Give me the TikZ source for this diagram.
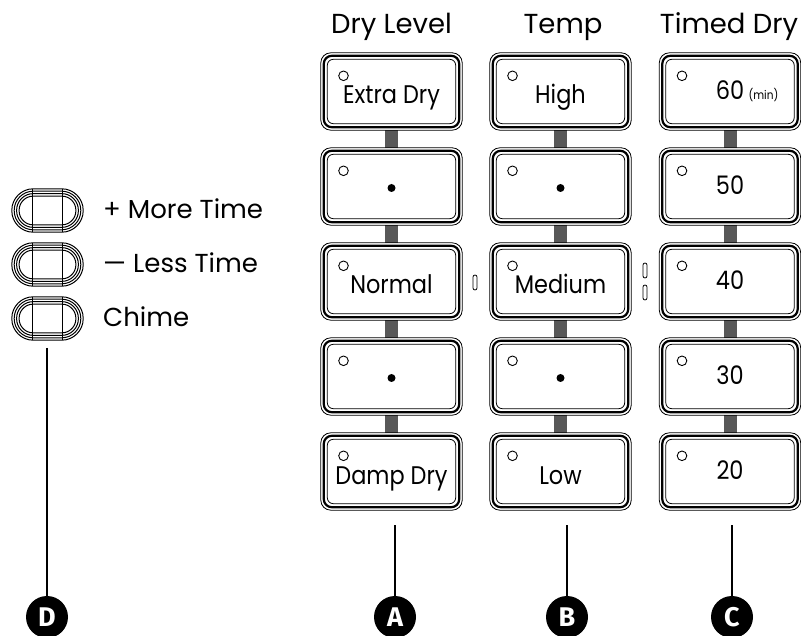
\documentclass[tikz,border=0pt]{standalone}
\usepackage{fontspec}
\newfontfamily\fut[FakeStretch=0.88]{Poppins}
\newfontfamily\futw{Poppins}
\newfontfamily\lett{Fira Sans}
\definecolor{stubgray}{RGB}{88,88,88}
\newcommand\btnframe[1]{%
  \draw[line width=0.8pt, rounded corners=10pt] (#1.north west) rectangle (#1.south east);
  \draw[line width=2.2pt, rounded corners=8pt] ([shift={(3,3)}]#1.north west) rectangle ([shift={(-3,-3)}]#1.south east);
  \draw[line width=0.8pt, rounded corners=6pt] ([shift={(6.5,6.5)}]#1.north west) rectangle ([shift={(-6.5,-6.5)}]#1.south east);
  \draw[line width=0.9pt] ([shift={(22.7,23)}]#1.north west) circle (4.8);
}
\newcommand\ovalframe[1]{%
  \foreach \o/\rr in {0/21.5,2.4/19.1,4.8/16.7,7.3/14.2}{
    \draw[line width=1pt, rounded corners=\rr pt] ([shift={(\o,\o)}]#1.north west) rectangle ([shift={(-\o,-\o)}]#1.south east);}
  \draw[line width=0.7pt] ([xshift=-15pt]#1.north) -- ([xshift=-15pt]#1.south);
  \draw[line width=0.7pt] ([xshift=15pt]#1.north) -- ([xshift=15pt]#1.south);
}
\newcommand\btndot[1]{\fill ([yshift=-1.5pt]#1.center) circle (4);}
\begin{document}
\begin{tikzpicture}[x=1pt,y=-1pt,
  btn/.style={minimum width=141pt, minimum height=77pt, inner sep=0pt, fill=white, rounded corners=10pt},
  ovalbtn/.style={minimum width=71pt, minimum height=43pt, inner sep=0pt},
  lbl/.style={anchor=base, inner sep=0pt, font=\fut\fontsize{25.5}{25.5}\selectfont},
  head/.style={anchor=base, inner sep=0pt, font=\futw\fontsize{27.5}{27.5}\selectfont},
  side/.style={anchor=base west, inner sep=0pt, font=\futw\fontsize{26}{26}\selectfont},
  tag/.style={circle, fill=black, minimum size=42pt, inner sep=0pt, text=white, font=\lett\bfseries\fontsize{27}{27}\selectfont},
  lead/.style={line width=2pt},
  slot/.style={line width=0.8pt, rounded corners=2pt}
]
\useasboundingbox (0,0) rectangle (801,636);
% headers
\node[head] (hA) at (391.5,34) {Dry Level};
\node[head] (hB) at (563,34) {Temp};
\node[head] (hC) at (729,34) {Timed Dry};
% buttons
\foreach \c/\x in {A/391.5,B/560.5,C/730}{
  \foreach \r/\y in {1/91.5,2/186.5,3/281.5,4/376.5,5/471.5}{
    \node[btn] (\c\r) at (\x,\y) {};}
  \foreach \r/\s in {1/2,2/3,3/4,4/5}{
    \fill[stubgray] ([xshift=-6.5pt]\c\r.south) rectangle ([xshift=6.5pt]\c\s.north);}
  \foreach \r in {1,...,5}{
    \btnframe{\c\r}}
}
\btndot{A2}\btndot{A4}\btndot{B2}\btndot{B4}
% labels
\node[lbl] (tA1) at ([yshift=-50.5pt]A1.north) {Extra Dry};
\node[lbl] (tA3) at ([yshift=-50.5pt]A3.north) {Normal};
\node[lbl] (tA5) at ([yshift=-51.5pt]A5.north) {Damp Dry};
\node[lbl] (tB1) at ([yshift=-50.5pt]B1.north) {High};
\node[lbl] (tB3) at ([yshift=-50.5pt]B3.north) {Medium};
\node[lbl] (tB5) at ([yshift=-51.5pt]B5.north) {Low};
\node[lbl] (tC1) at ([yshift=-47pt]C1.north) {60};
\node[anchor=base west, inner sep=0pt, font=\fut\fontsize{12}{12}\selectfont] (tC1m) at ([xshift=4pt]tC1.base east) {(min)};
\node[lbl] (tC2) at ([yshift=-47pt]C2.north) {50};
\node[lbl] (tC3) at ([yshift=-47pt]C3.north) {40};
\node[lbl] (tC4) at ([yshift=-47pt]C4.north) {30};
\node[lbl] (tC5) at ([yshift=-47pt]C5.north) {20};
% side slots
\draw[slot] (473,275) rectangle (477,290);
\draw[slot] (643,263) rectangle (647,278);
\draw[slot] (643,285) rectangle (647,300);
% left buttons
\node[ovalbtn] (D1) at (47.5,210.5) {};
\node[ovalbtn] (D2) at (47.5,264.5) {};
\node[ovalbtn] (D3) at (47.5,318.5) {};
\ovalframe{D1}\ovalframe{D2}\ovalframe{D3}
\node[side] (sD1) at (103,219) {+ More Time};
\node[side] (sD2) at (103,273) {— Less Time};
\node[side] (sD3) at (103,327) {Chime};
% tags
\node[tag] (cD) at (47,617) {D};
\node[tag] (cA) at (395,617) {A};
\node[tag] (cB) at (567,617) {B};
\node[tag] (cC) at (732,617) {C};
\coordinate (lD) at (47,348);
\coordinate (lA) at (395,525);
\coordinate (lB) at (567,525);
\coordinate (lC) at (732,525);
\draw[lead] (lD) -- (cD);
\draw[lead] (lA) -- (cA);
\draw[lead] (lB) -- (cB);
\draw[lead] (lC) -- (cC);
\end{tikzpicture}
\end{document}
